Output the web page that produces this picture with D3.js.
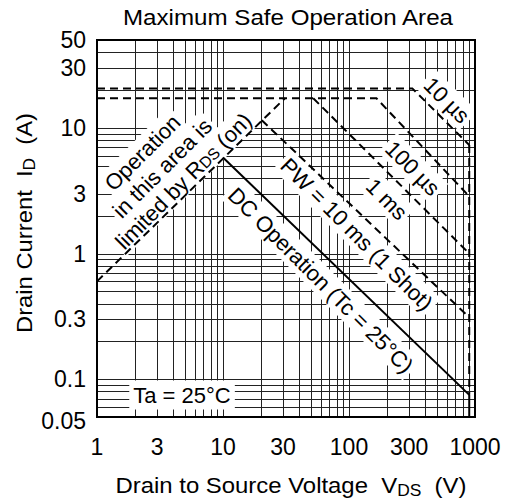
<!DOCTYPE html>
<html><head><meta charset="utf-8">
<script src="https://cdn.jsdelivr.net/npm/d3@7"></script>
<style>
body{margin:0;background:#fff}
svg{display:block}
text{font-family:"Liberation Sans",Arial,Helvetica,sans-serif;fill:#000}
</style>
</head><body>
<svg id="c" width="508" height="503"></svg>
<script>
// ---- data ----
const titleText = "Maximum Safe Operation Area";
const xTickLabels = [1, 3, 10, 30, 100, 300, 1000];
const yTickLabels = [50, 30, 10, 3, 1, 0.3, 0.1, 0.05];
// [V_DS (V), I_D (A)]
const rdsLimit  = [[1, 0.6], [31, 17.2]];
const pw10us    = [[1, 20.6], [318, 20.6], [900, 7.3]];
const pw100us   = [[1, 17.2], [165, 17.2], [900, 2.85]];
const pw1ms     = [[52, 17.2], [900, 1.0]];
const pw10ms    = [[20.3, 11.5], [900, 0.31]];
const dcOp      = [[10, 5.8], [900, 0.075]];
const vdssLimit = [[900, 7.3], [900, 0.075]];
const dcTail    = [[900, 0.075], [900, 0.05]];

const svg = d3.select("#c");
svg.append("rect").attr("width", 508).attr("height", 503).attr("fill", "#fff");

const x = d3.scaleLog().domain([1, 1000]).range([97, 475]);
const y = d3.scaleLog().domain([0.05, 50]).range([417, 40]);
const px = v => Math.round(x(v)) + 0.5;
const py = v => Math.round(y(v)) + 0.5;

// grid
const g = svg.append("g");
g.selectAll("line.gx").data(x.ticks()).join("line").attr("class", "gx")
  .attr("x1", d => px(d)).attr("x2", d => px(d))
  .attr("y1", y.range()[0]).attr("y2", y.range()[1])
  .attr("stroke", "#222").attr("stroke-width", 1);
g.selectAll("line.gy").data(y.ticks()).join("line").attr("class", "gy")
  .attr("y1", d => py(d)).attr("y2", d => py(d))
  .attr("x1", x.range()[0]).attr("x2", x.range()[1])
  .attr("stroke", "#222").attr("stroke-width", 1);

const fs = 22;
// text with a white box behind it
function boxed(gg, t, pad) {
  const b = t.node().getBBox();
  gg.insert("rect", () => t.node())
    .attr("x", b.x - pad).attr("y", b.y - pad + 2)
    .attr("width", b.width + 2 * pad).attr("height", b.height + 2 * pad - 4)
    .attr("fill", "#fff");
}

function rotLabel(cx, cy, ang, lines) {
  const gg = svg.append("g").attr("transform", `translate(${cx},${cy}) rotate(${ang})`);
  lines.forEach(l => {
    const t = gg.append("text").attr("x", l.dx || 0).attr("y", l.dy || 0)
      .attr("text-anchor", "middle").attr("dominant-baseline", "central")
      .attr("font-size", fs);
    l.parts.forEach(p => {
      const ts = t.append("tspan").text(p.t);
      if (p.sub) ts.attr("font-size", fs * 0.72).attr("baseline-shift", "-18%");
    });
    boxed(gg, t, 3);
  });
}

rotLabel(162, 168, -45, [
  {dx: -3, dy: -25, parts: [{t: "Operation"}]},
  {dx: 0, dy: 0, parts: [{t: "in this area is"}]},
  {dx: 6, dy: 24, parts: [{t: "limited by R"}, {t: "DS", sub: true}, {t: " (on)"}]}
]);
rotLabel(321, 280, 45, [{parts: [{t: "DC Operation (Tc = 25°C)"}]}]);
rotLabel(357, 234, 45, [{parts: [{t: "PW = 10 ms (1 Shot)"}]}]);
rotLabel(387, 199, 45, [{parts: [{t: "1 ms"}]}]);
rotLabel(413, 168, 45, [{parts: [{t: "100 µs"}]}]);
rotLabel(447, 100, 45, [{parts: [{t: "10 µs"}]}]);

const tg = svg.append("g");
const ta = tg.append("text").attr("x", 182).attr("y", 395)
  .attr("text-anchor", "middle").attr("dominant-baseline", "central")
  .attr("font-size", fs).text("Ta = 25°C");
boxed(tg, ta, 4);

// curves
const line = d3.line().x(d => x(d[0])).y(d => y(d[1]));
const dashed = [rdsLimit, pw10us, pw100us, pw1ms, pw10ms, vdssLimit];
svg.selectAll("path.dash").data(dashed).join("path").attr("class", "dash")
  .attr("d", line).attr("fill", "none").attr("stroke", "#000")
  .attr("stroke-width", 2).attr("stroke-dasharray", "8,5");
svg.selectAll("path.solid").data([dcOp, dcTail]).join("path").attr("class", "solid")
  .attr("d", line).attr("fill", "none").attr("stroke", "#000")
  .attr("stroke-width", 2);

// frame
svg.append("rect").attr("x", x.range()[0]).attr("y", y.range()[1])
  .attr("width", x.range()[1] - x.range()[0]).attr("height", y.range()[0] - y.range()[1])
  .attr("fill", "none").attr("stroke", "#000").attr("stroke-width", 2);

// tick labels
svg.selectAll("text.xt").data(xTickLabels).join("text").attr("class", "xt")
  .attr("x", d => x(d)).attr("y", 455).attr("text-anchor", "middle")
  .attr("font-size", 23).text(d => d);
svg.selectAll("text.yt").data(yTickLabels).join("text").attr("class", "yt")
  .attr("x", 86).attr("y", (d, i) => y(d) + (i === yTickLabels.length - 1 ? 4 : 0))
  .attr("text-anchor", "end").attr("dominant-baseline", "central")
  .attr("font-size", 23).text(d => d);

// titles
svg.append("text").attr("x", 288).attr("y", 25).attr("text-anchor", "middle")
  .attr("font-size", 22).attr("textLength", 330).attr("lengthAdjust", "spacingAndGlyphs")
  .text(titleText);

const xt = svg.append("text").attr("x", 291).attr("y", 493).attr("text-anchor", "middle")
  .attr("font-size", 22).attr("textLength", 351).attr("lengthAdjust", "spacingAndGlyphs")
  .style("white-space", "pre");
xt.append("tspan").text("Drain to Source Voltage  V");
xt.append("tspan").attr("font-size", 16).attr("baseline-shift", "-18%").text("DS");
xt.append("tspan").text("  (V)");

const yt = svg.append("text").attr("transform", "translate(32,223) rotate(-90)")
  .attr("text-anchor", "middle")
  .attr("font-size", 22).attr("textLength", 220).attr("lengthAdjust", "spacingAndGlyphs")
  .style("white-space", "pre");
yt.append("tspan").text("Drain Current  I");
yt.append("tspan").attr("font-size", 16).attr("baseline-shift", "-18%").text("D");
yt.append("tspan").text("  (A)");
</script>
</body></html>
